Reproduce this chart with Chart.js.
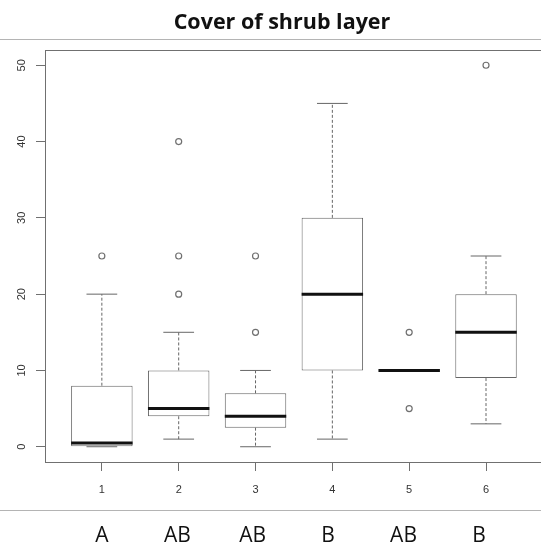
<!DOCTYPE html>
<html>
<head>
<meta charset="utf-8">
<title>Cover of shrub layer</title>
<script src="https://cdn.jsdelivr.net/npm/chart.js@4.4.1/dist/chart.umd.min.js"></script>
<style>
  html, body { margin: 0; padding: 0; background: #fff; overflow: hidden; }
  canvas { display: block; }
</style>
</head>
<body>
<canvas id="c" width="564" height="546"></canvas>
<script>
// Groups, significance letters and y tick values
const categories = ['1', '2', '3', '4', '5', '6'];
const groupLetters = ['A', 'AB', 'AB', 'B', 'AB', 'B'];
const yTicks = [0, 10, 20, 30, 40, 50];

// Five-number summaries per group (shrub cover, %)
const whiskerLow    = [0,   1, 0,   1,  10, 3];
const lowerQuartile = [0,   4, 2.5, 10, 10, 9];
const medians       = [0.5, 5, 4,   20, 10, 15];
const upperQuartile = [8,  10, 7,   30, 10, 20];
const whiskerHigh   = [20, 15, 10,  45, 10, 25];
const outliers      = [[25], [40, 25, 20], [25, 15], [], [15, 5], [50]];

// Box and staple half-widths in x units
const BOX_HALF = 0.4;
const STAPLE_HALF = 0.2;
const gap = (x) => ({ x, y: null });

const boxes = categories.map((c, i) => ({ x: i + 1, y: [lowerQuartile[i], upperQuartile[i]] }));
const whiskers = categories.flatMap((c, i) => [
  { x: i + 1, y: upperQuartile[i] }, { x: i + 1, y: whiskerHigh[i] }, gap(i + 1),
  { x: i + 1, y: lowerQuartile[i] }, { x: i + 1, y: whiskerLow[i] }, gap(i + 1)
]);
const staples = categories.flatMap((c, i) => [
  { x: i + 1 - STAPLE_HALF, y: whiskerHigh[i] }, { x: i + 1 + STAPLE_HALF, y: whiskerHigh[i] }, gap(i + 1),
  { x: i + 1 - STAPLE_HALF, y: whiskerLow[i] }, { x: i + 1 + STAPLE_HALF, y: whiskerLow[i] }, gap(i + 1)
]);
const medianLines = categories.flatMap((c, i) => [
  { x: i + 1 - BOX_HALF, y: medians[i] }, { x: i + 1 + BOX_HALF, y: medians[i] }, gap(i + 1)
]);
const outlierPoints = outliers.flatMap((vals, i) => vals.map(v => ({ x: i + 1, y: v })));

const lineGrey = '#666666';
const tickGrey = '#707070';
const tickFont = { family: '"Liberation Sans", Arial, sans-serif', size: 11 };

// Plot frame plus the thin rules above the plot and above the letter row
const framePlugin = {
  id: 'frame',
  beforeDatasetsDraw(chart) {
    const { ctx, chartArea: a } = chart;
    ctx.save();
    ctx.strokeStyle = tickGrey;
    ctx.lineWidth = 1;
    ctx.strokeRect(Math.round(a.left) + 0.5, Math.round(a.top) + 0.5,
                   Math.round(a.right - a.left), Math.round(a.bottom - a.top));
    ctx.restore();
  },
  afterDraw(chart) {
    const { ctx, width } = chart;
    const letterTop = Math.round(chart.scales.x2.top) + 0.5;
    ctx.save();
    ctx.strokeStyle = '#b4b4b4';
    ctx.lineWidth = 1;
    ctx.beginPath();
    ctx.moveTo(0, 39.5); ctx.lineTo(width, 39.5);
    ctx.moveTo(0, letterTop); ctx.lineTo(width, letterTop);
    ctx.stroke();
    ctx.restore();
  }
};

new Chart(document.getElementById('c'), {
  type: 'bar',
  data: {
    datasets: [
      { type: 'bar', data: boxes, backgroundColor: '#ffffff', borderColor: lineGrey,
        borderWidth: 1, borderSkipped: false, barPercentage: 0.8, categoryPercentage: 1, order: 4 },
      { type: 'line', data: whiskers, borderColor: lineGrey, borderWidth: 1, borderDash: [3, 2],
        pointRadius: 0, spanGaps: false, fill: false, order: 3 },
      { type: 'line', data: staples, borderColor: lineGrey, borderWidth: 1,
        pointRadius: 0, spanGaps: false, fill: false, order: 3 },
      { type: 'line', data: medianLines, borderColor: '#111111', borderWidth: 3, borderCapStyle: 'butt',
        pointRadius: 0, spanGaps: false, fill: false, order: 2 },
      { type: 'scatter', data: outlierPoints, pointRadius: 3, pointBackgroundColor: '#ffffff',
        pointBorderColor: tickGrey, pointBorderWidth: 1.2, order: 1 }
    ]
  },
  options: {
    responsive: false,
    animation: false,
    events: [],
    layout: { padding: 0, autoPadding: false },
    plugins: {
      legend: { display: false },
      tooltip: { enabled: false },
      title: {
        display: true,
        text: 'Cover of shrub layer',
        color: '#111111',
        font: { family: '"Open Sans", sans-serif', size: 21.5, weight: 'bold' },
        padding: { top: 10, bottom: 14.2 }
      }
    },
    scales: {
      x: {
        type: 'linear', position: 'bottom', weight: 0,
        min: 0.26, max: 7.015, offset: false,
        afterBuildTicks: (s) => { s.ticks = categories.map((c, i) => ({ value: i + 1 })); },
        afterFit: (s) => { s.height = 48; },
        grid: { drawOnChartArea: false, drawTicks: true, tickLength: 9, color: tickGrey, offset: false },
        border: { display: false },
        ticks: { callback: (v) => categories[v - 1], color: '#333333', font: tickFont,
                 padding: 12, maxRotation: 0, autoSkip: false }
      },
      x2: {
        type: 'linear', position: 'bottom', weight: 1,
        min: 0.245, max: 7.128, offset: false,
        afterBuildTicks: (s) => { s.ticks = groupLetters.map((c, i) => ({ value: i + 1 })); },
        afterFit: (s) => { s.height = 36; },
        grid: { display: false, drawTicks: false, offset: false },
        border: { display: false },
        ticks: { callback: (v) => groupLetters[v - 1], color: '#111111',
                 font: { family: '"Open Sans", sans-serif', size: 21 },
                 padding: 13, maxRotation: 0, autoSkip: false }
      },
      y: {
        type: 'linear', min: -2, max: 52,
        afterBuildTicks: (s) => { s.ticks = yTicks.map(v => ({ value: v })); },
        afterFit: (s) => { s.width = 45; },
        grid: { drawOnChartArea: false, drawTicks: true, tickLength: 9, color: tickGrey },
        border: { display: false },
        ticks: { minRotation: 90, maxRotation: 90, crossAlign: 'center', padding: 8,
                 color: '#333333', font: tickFont }
      }
    }
  },
  plugins: [framePlugin]
});
</script>
</body>
</html>
